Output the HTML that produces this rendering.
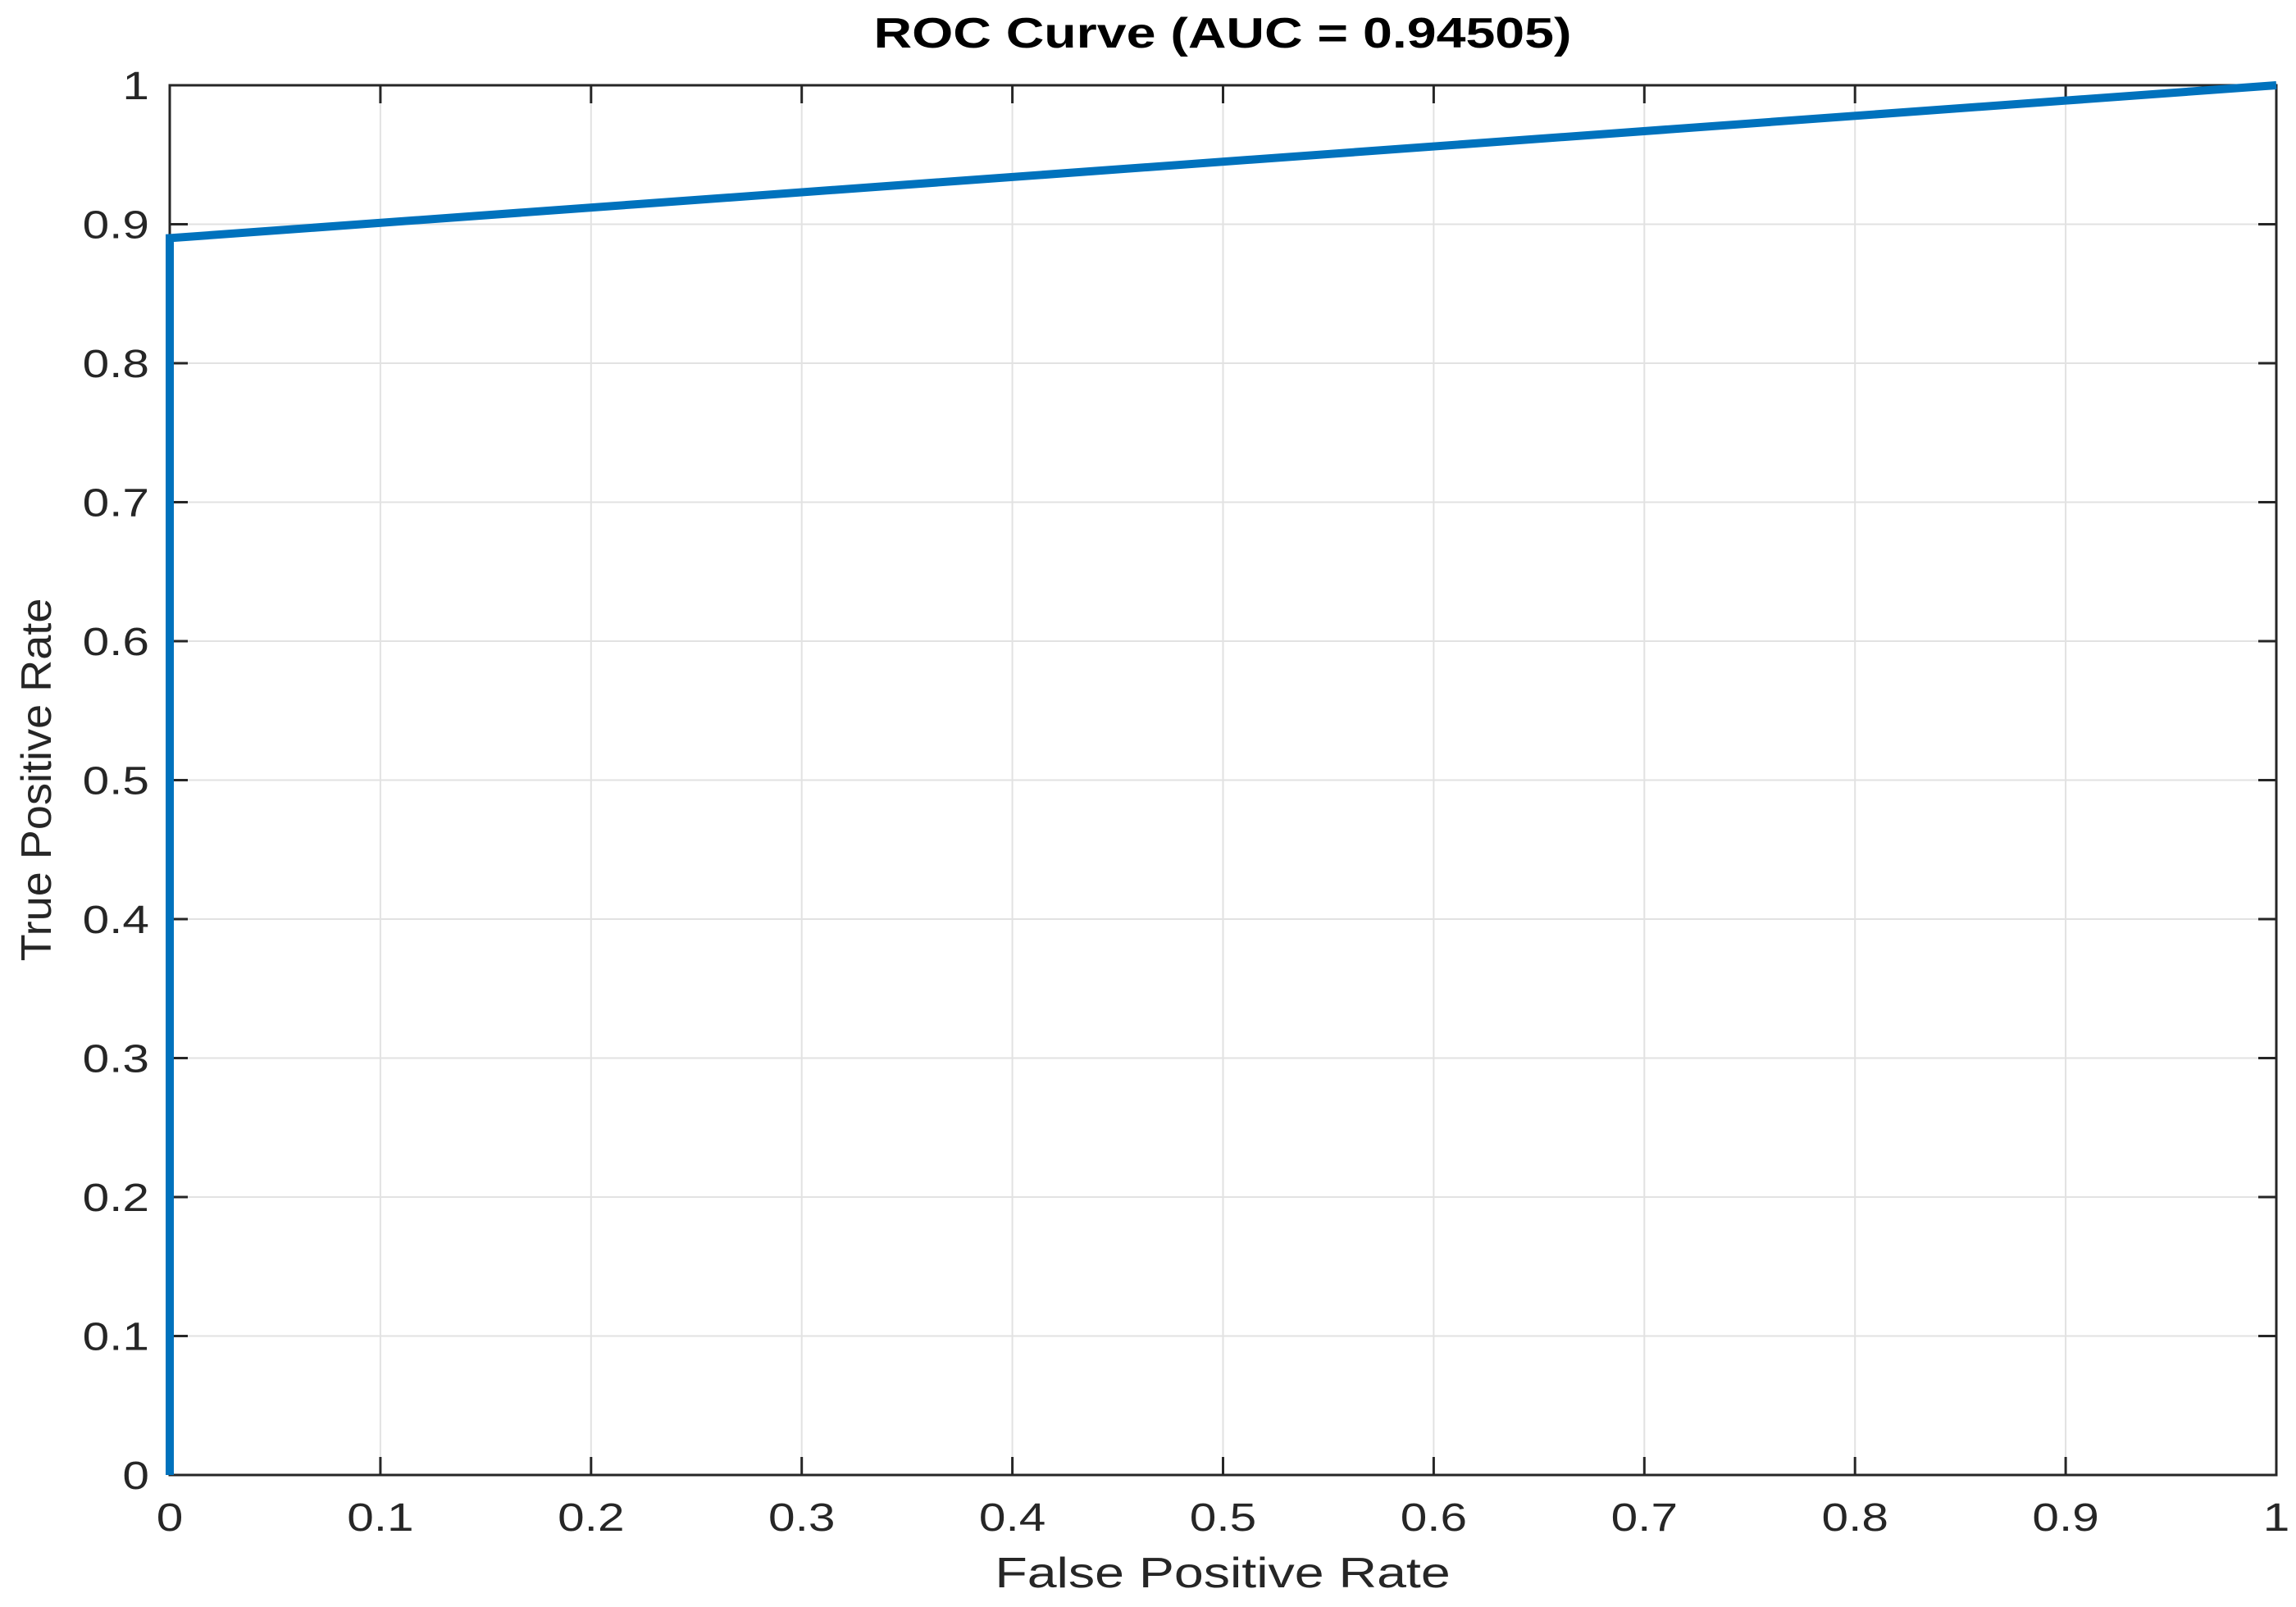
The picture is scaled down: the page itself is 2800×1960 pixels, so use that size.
<!DOCTYPE html>
<html><head><meta charset="utf-8"><style>
html,body{margin:0;padding:0;background:#fff;}
svg{display:block;font-family:"Liberation Sans",sans-serif;}
</style></head><body>
<svg id="chart" width="2800" height="1960"></svg>
<script>
const xTicks=[0,0.1,0.2,0.3,0.4,0.5,0.6,0.7,0.8,0.9,1];
const yTicks=[0,0.1,0.2,0.3,0.4,0.5,0.6,0.7,0.8,0.9,1];
const xLabels=["0","0.1","0.2","0.3","0.4","0.5","0.6","0.7","0.8","0.9","1"];
const yLabels=["0","0.1","0.2","0.3","0.4","0.5","0.6","0.7","0.8","0.9","1"];
const fpr=[0,0,1];
const tpr=[0,0.89,1];
const NS="http://www.w3.org/2000/svg";
const svg=document.getElementById('chart');
const X0=207,X1=2776,Y0=1799,Y1=104;
const sx=v=>X0+v*(X1-X0), sy=v=>Y0-v*(Y0-Y1);
function mk(t,a,p){const e=document.createElementNS(NS,t);for(const k in a)e.setAttribute(k,a[k]);(p||svg).appendChild(e);return e;}
const grid=mk('g',{});


xTicks.forEach(v=>{const l=mk('line',{x1:sx(v),x2:sx(v),y1:Y1,y2:Y0,stroke:'#e2e2e2','stroke-width':2},grid);

});
yTicks.forEach(v=>{const l=mk('line',{x1:X0,x2:X1,y1:sy(v),y2:sy(v),stroke:'#e2e2e2','stroke-width':2},grid);

});
const frame=mk('rect',{x:X0,y:Y1,width:X1-X0,height:Y0-Y1,fill:'none',stroke:'#262626','stroke-width':3});


xTicks.forEach((v,i)=>{
 mk('line',{x1:sx(v),x2:sx(v),y1:Y0,y2:Y0-22,stroke:'#262626','stroke-width':3});
 mk('line',{x1:sx(v),x2:sx(v),y1:Y1,y2:Y1+22,stroke:'#262626','stroke-width':3});
 const t=mk('text',{x:0,y:0,transform:`translate(${sx(v)},1867) scale(1.22,1)`,'font-size':48,fill:'#262626','text-anchor':'middle'});t.textContent=xLabels[i];
 
 
});
yTicks.forEach((v,i)=>{
 mk('line',{x1:X0,x2:X0+22,y1:sy(v),y2:sy(v),stroke:'#262626','stroke-width':3});
 mk('line',{x1:X1,x2:X1-22,y1:sy(v),y2:sy(v),stroke:'#262626','stroke-width':3});
 const t=mk('text',{x:0,y:0,transform:`translate(182,${sy(v)+17}) scale(1.22,1)`,'font-size':48,fill:'#262626','text-anchor':'end'});t.textContent=yLabels[i];
 
 
});
const pts=fpr.map((f,i)=>sx(f)+','+sy(tpr[i])).join(' ');
const curve=mk('polyline',{points:pts,fill:'none',stroke:'#0072bd','stroke-width':10,'stroke-linejoin':'miter'});


const title=mk('text',{x:0,y:0,transform:'translate(1491,58) scale(1.24,1)','font-size':52,'font-weight':'bold',fill:'#000','text-anchor':'middle'});
title.textContent='ROC Curve (AUC = 0.94505)';


const xl=mk('text',{x:0,y:0,transform:'translate(1491,1936) scale(1.24,1)','font-size':52,fill:'#262626','text-anchor':'middle'});
xl.textContent='False Positive Rate';


const yl=mk('text',{x:0,y:0,'font-size':52,fill:'#262626','text-anchor':'middle',transform:'translate(62,951) rotate(-90) scale(1.04,1)'});
yl.textContent='True Positive Rate';


</script>
</body></html>
